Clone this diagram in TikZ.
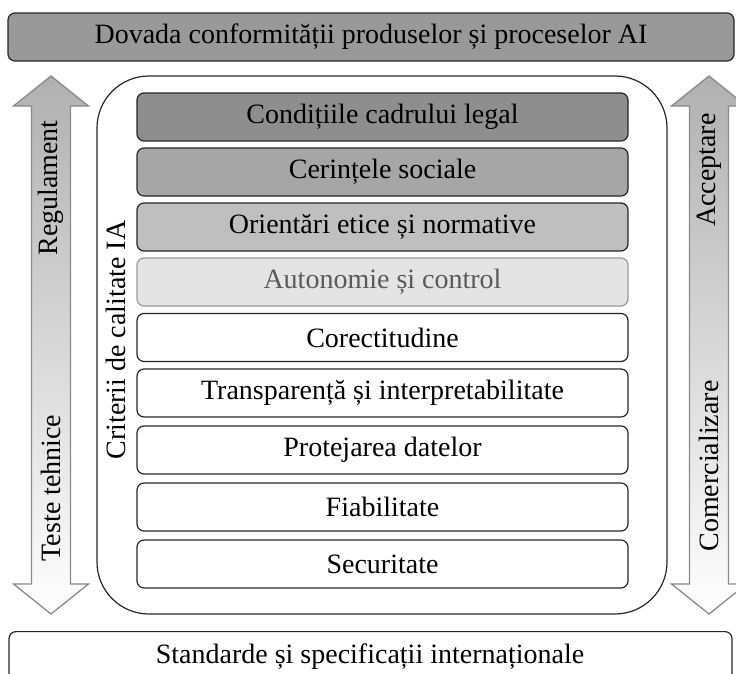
\documentclass[tikz,border=0pt]{standalone}
\usepackage{fontspec}
\setmainfont{Liberation Serif}
\definecolor{bannerfill}{HTML}{999999}
\definecolor{fillA}{HTML}{8E8E8E}
\definecolor{fillB}{HTML}{A6A6A6}
\definecolor{fillC}{HTML}{BFBFBF}
\definecolor{fillD}{HTML}{E4E4E4}
\definecolor{edgeD}{HTML}{9A9A9A}
\definecolor{textD}{HTML}{5A5A5A}
\definecolor{arrowedge}{HTML}{8A8A8A}
\definecolor{arrowtop}{HTML}{B0B0B0}
\definecolor{lineDark}{HTML}{262626}
\tikzset{
  every node/.style={font=\fontsize{28}{32}\selectfont, inner sep=0pt},
  layerbox/.style={draw=lineDark, line width=1.2pt, rounded corners=7pt,
    minimum width=491pt, minimum height=48pt},
  widebox/.style={draw=lineDark, line width=1.2pt, rounded corners=7pt},
  bigarrow/.style={draw=arrowedge, line width=1.3pt, top color=arrowtop, bottom color=white, line join=miter},
  sidelabel/.style={rotate=90}
}
\begin{document}
\begin{tikzpicture}[x=1pt, y=-1pt]
\useasboundingbox (0,0) rectangle (736,673);
\begin{scope}
\clip (0,0) rectangle (736,673);
% top banner
\node[widebox, fill=bannerfill, minimum width=726pt, minimum height=48pt] (banner) at (371,37) {Dovada conformității produselor și proceselor AI};
% bottom banner
\node[widebox, fill=white, minimum width=723pt, minimum height=60pt, anchor=north] (bottom) at (370.5,631) {};
\node (bottomtext) at (370,657) {Standarde și specificații internaționale};
% left arrow
\path[bigarrow] (51,76) -- (88.5,106) -- (70.5,106) -- (70.5,584) -- (88.5,584) -- (51,614)
  -- (13.5,584) -- (31.5,584) -- (31.5,106) -- (13.5,106) -- cycle;
% right arrow
\path[bigarrow] (709,76) -- (746.5,106) -- (728.5,106) -- (728.5,584) -- (746.5,584) -- (709,614)
  -- (671.5,584) -- (689.5,584) -- (689.5,106) -- (671.5,106) -- cycle;
\end{scope}
\node[sidelabel] (regl) at (51,188) {Regulament};
\node[sidelabel] (teste) at (51,488) {Teste tehnice};
\node[sidelabel] (accept) at (709,170) {Acceptare};
\node[sidelabel] (comerc) at (709,466) {Comercializare};
% container
\node[draw=lineDark, line width=1.2pt, rounded corners=52pt, minimum width=570pt, minimum height=538pt] (container) at (382,345) {};
\node[sidelabel] (criterii) at (116,340) {Criterii de calitate IA};
% layers
\node[layerbox, fill=fillA] (l1) at (382.5,117) {Condițiile cadrului legal};
\node[layerbox, fill=fillB] (l2) at (382.5,172) {Cerințele sociale};
\node[layerbox, fill=fillC] (l3) at (382.5,227) {Orientări etice și normative};
\node[layerbox, fill=fillD, draw=edgeD, text=textD] (l4) at (382.5,282) {Autonomie și control};
\node[layerbox] (l5) at (382.5,337.5) {Corectitudine};
\node[layerbox] (l6) at (382.5,393) {Transparență și interpretabilitate};
\node[layerbox] (l7) at (382.5,450) {Protejarea datelor};
\node[layerbox] (l8) at (382.5,507) {Fiabilitate};
\node[layerbox] (l9) at (382.5,564) {Securitate};
\end{tikzpicture}
\end{document}
